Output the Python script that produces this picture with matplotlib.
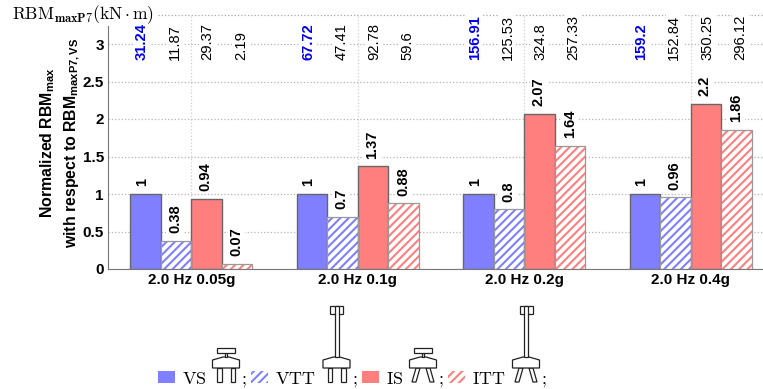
import matplotlib
matplotlib.use('Agg')
import matplotlib.pyplot as plt
from matplotlib.patches import Polygon, Rectangle

plt.rcParams['font.family'] = ['Liberation Sans', 'DejaVu Sans']
plt.rcParams['mathtext.fontset'] = 'custom'
plt.rcParams['mathtext.rm'] = 'Liberation Sans:bold'
plt.rcParams['mathtext.default'] = 'rm'
plt.rcParams['hatch.linewidth'] = 1.5

groups = ['2.0 Hz 0.05g', '2.0 Hz 0.1g', '2.0 Hz 0.2g', '2.0 Hz 0.4g']
series_names = ['VS', 'VTT', 'IS', 'ITT']
normalized = [
    [1, 1, 1, 1],
    [0.38, 0.7, 0.8, 0.96],
    [0.94, 1.37, 2.07, 2.2],
    [0.07, 0.88, 1.64, 1.86],
]
rbm_labels = [
    ['31.24', '67.72', '156.91', '159.2'],
    ['11.87', '47.41', '125.53', '152.84'],
    ['29.37', '92.78', '324.8', '350.25'],
    ['2.19', '59.6', '257.33', '296.12'],
]
y_ticks = [0, 0.5, 1, 1.5, 2, 2.5, 3]
y_tick_labels = ['0', '0.5', '1', '1.5', '2', '2.5', '3']

blue = '#7f7fff'
red = '#ff7f7f'
W, H = 763, 389
PX_X = 166.5  # pixels per group
PX_Y = 75.0   # pixels per unit on the y axis


def fig_box(x0, y0, x1, y1):
    # pixel box, y measured from the top
    return [x0 / W, 1 - y1 / H, (x1 - x0) / W, (y1 - y0) / H]


def add_poly(fig, pts, fc='white', ec='#222222', lw=0.9):
    pts = [(x / W, 1 - y / H) for x, y in pts]
    fig.add_artist(Polygon(pts, closed=True, fc=fc, ec=ec, lw=lw, transform=fig.transFigure))


def add_rect(fig, x0, y0, x1, y1):
    add_poly(fig, [(x0, y0), (x1, y0), (x1, y1), (x0, y1)])


def draw_icon(fig, cx, base, tall, inclined):
    # piers
    if inclined:
        add_poly(fig, [(cx - 7, base - 14), (cx - 3, base - 14), (cx - 7, base), (cx - 11, base)])
        add_poly(fig, [(cx + 3, base - 14), (cx + 7, base - 14), (cx + 11, base), (cx + 7, base)])
    else:
        add_rect(fig, cx - 9, base - 14, cx - 4.5, base)
        add_rect(fig, cx + 4.5, base - 14, cx + 9, base)
    # pile cap
    add_poly(fig, [(cx - 13.5, base - 22), (cx - 3, base - 25), (cx + 3, base - 25), (cx + 13.5, base - 22),
                   (cx + 13.5, base - 14), (cx - 13.5, base - 14)])
    if tall:
        add_rect(fig, cx - 6.5, base - 76, cx + 6.5, base - 68)
        add_rect(fig, cx - 2, base - 76, cx + 2, base - 25)
    else:
        add_rect(fig, cx - 0.6, base - 30, cx + 0.6, base - 25)
        add_rect(fig, cx - 9, base - 34, cx + 9, base - 29)


fig = plt.figure(figsize=(W / 100, H / 100), dpi=100)
ax = fig.add_axes(fig_box(108, 15, 763, 269))

box = dict(fc='white', ec='none', pad=1.2)
bar_w = 30.4 / PX_X
value_shift = [-4, -1, -1, 0]  # labels sit a little off the bar centres
top_offset = [-49.5, -16.5, 16.5, 49.5]
for i, vals in enumerate(normalized):
    color = blue if i < 2 else red
    for j, v in enumerate(vals):
        x = j + 1 + (i - 1.5) * bar_w
        if i % 2 == 0:
            ax.bar(x, v, bar_w, color=color, edgecolor='#666666', lw=1.0, zorder=3)
        else:
            ax.bar(x, v, bar_w, color='white', edgecolor=color, hatch='////', lw=0, zorder=3)
            ax.bar(x, v, bar_w, fill=False, edgecolor='#999999', lw=0.9, zorder=4)
        ax.text(x + value_shift[i] / PX_X, v + 0.1, str(v), rotation=90, ha='center', va='bottom',
                fontsize=10.5, fontweight='bold', zorder=5, bbox=box)
        ax.text(j + 1 + top_offset[i] / PX_X, 2.787, rbm_labels[i][j], rotation=90, ha='center',
                va='bottom', fontsize=10.6, color='#0000ee' if i == 0 else 'black',
                fontweight='bold' if i == 0 else 'normal', zorder=5, bbox=box)

ax.set_xlim(0.5, 0.5 + 655 / PX_X)
ax.set_ylim(0, 254 / PX_Y)
ax.set_xticks(range(1, 5))
ax.set_xticklabels(groups, fontsize=11, fontweight='bold')
ax.set_yticks(y_ticks)
ax.set_yticklabels(y_tick_labels, fontsize=11, fontweight='bold')
ax.tick_params(length=0, pad=3)
ax.grid(True, axis='y', color='#b5b5b5', ls=':', lw=0.9, zorder=0)
ax.grid(True, axis='x', color='#cfcfcf', ls=':', lw=0.9, zorder=0)
ax.set_axisbelow(True)
for side in ['top', 'right']:
    ax.spines[side].set_visible(False)
for side in ['left', 'bottom']:
    ax.spines[side].set_color('#777777')
ax.spines['left'].set_bounds(0, 243 / PX_Y)
ax.set_ylabel('Normalized RBM$_{max}$\nwith respect to RBM$_{maxP7,VS}$',
              fontsize=11.4, fontweight='bold', va='center', linespacing=1.4)
ax.yaxis.set_label_coords((60 - 108) / 655, (269 - 143) / 254)

# dotted line level with the RBM heading
ax.axhline(254 / PX_Y, xmin=(158 - 108) / 655, color='#a8a8a8', ls=':', lw=0.9, clip_on=False, zorder=0)
fig.text(12 / W, 1 - 15 / H, r'$\mathrm{RBM}_{\mathbf{maxP7}}(\mathrm{kN}\cdot\mathrm{m})$',
         fontsize=12.6, va='center', ha='left', math_fontfamily='cm')

# legend row made of swatches and small bridge sketches
legend_items = [(158, blue, False, 182, 226, False, False),
                (251, blue, True, 275, 336.5, True, False),
                (362, red, False, 386, 423, False, True),
                (448, red, True, 472, 526, True, True)]
base_y = 382
text_y = 384
for name, (sx, color, hatched, tx, icon_x, tall, incl) in zip(series_names, legend_items):
    r = Rectangle((sx / W, 1 - 383 / H), 17 / W, 12 / H, transform=fig.transFigure,
                  fc='white' if hatched else color, ec=color if hatched else 'none',
                  hatch='////' if hatched else None, lw=0)
    fig.add_artist(r)
    fig.text(tx / W, 1 - text_y / H, '$\\mathrm{' + name + '}$', fontsize=13, va='baseline', ha='left',
             math_fontfamily='cm')
    draw_icon(fig, icon_x, base_y, tall, incl)
    fig.text((icon_x + 15) / W, 1 - text_y / H, '$;$', fontsize=13, va='baseline', ha='left',
             math_fontfamily='cm')

fig.savefig('out.png', dpi=100)
